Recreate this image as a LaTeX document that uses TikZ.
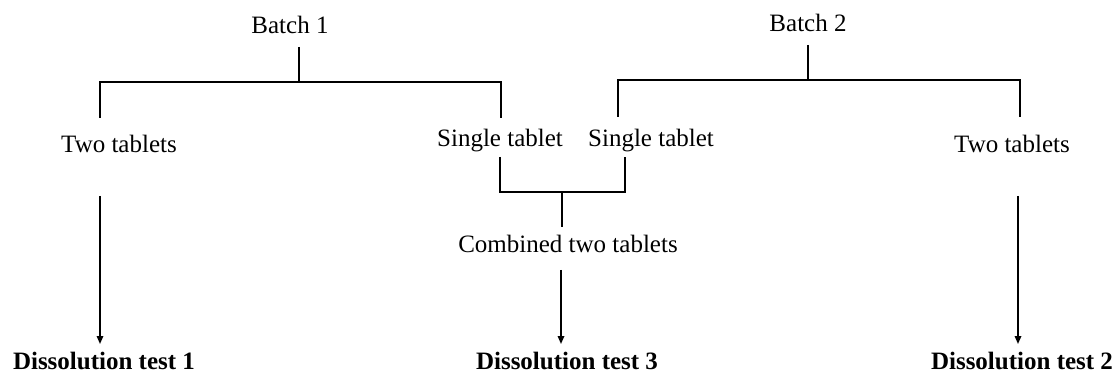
\documentclass[tikz,border=0pt]{standalone}
\usepackage{fontspec}
\setmainfont{Liberation Serif}
\usetikzlibrary{arrows.meta}
\begin{document}
\begin{tikzpicture}[x=1pt,y=-1pt,
  lbl/.style={anchor=base,inner sep=0pt,font=\fontsize{25}{29}\selectfont},
  res/.style={anchor=base,inner sep=0pt,font=\fontsize{25}{29}\selectfont\bfseries},
  link/.style={line width=1.6pt},
  flow/.style={line width=1.6pt,-{Triangle[length=8pt,width=6.5pt]}}]
\useasboundingbox (0,0) rectangle (1120,374);

% labels
\node[lbl] (b1) at (290,34) {Batch 1};
\node[lbl] (b2) at (808,32) {Batch 2};
\node[lbl] (tt1) at (119,153) {Two tablets};
\node[lbl] (st1) at (500,147) {Single tablet};
\node[lbl] (st2) at (651,147) {Single tablet};
\node[lbl] (tt2) at (1012,153) {Two tablets};
\node[lbl] (comb) at (568,253) {Combined two tablets};
\node[res] (d1) at (104,369) {Dissolution test 1};
\node[res] (d3) at (567,369) {Dissolution test 3};
\node[res] (d2) at (1022,369) {Dissolution test 2};

% junction points of the trees
\coordinate (b1s) at (299,47);
\coordinate (b1j) at (299,82);
\coordinate (b1l) at (100,82);
\coordinate (b1r) at (501,82);
\coordinate (b1le) at (100,118);
\coordinate (b1re) at (501,118);
\coordinate (b2s) at (808,45);
\coordinate (b2j) at (808,80);
\coordinate (b2l) at (618,80);
\coordinate (b2r) at (1020,80);
\coordinate (b2le) at (618,117);
\coordinate (b2re) at (1020,117);
\coordinate (s1t) at (500,157);
\coordinate (s1b) at (500,192);
\coordinate (s2t) at (625,157);
\coordinate (s2b) at (625,192);
\coordinate (cj) at (562,192);
\coordinate (ce) at (562,227);
\coordinate (a1s) at (100,196);
\coordinate (a1e) at (100,344);
\coordinate (a3s) at (561,270);
\coordinate (a3e) at (561,344);
\coordinate (a2s) at (1018,196);
\coordinate (a2e) at (1018,344);

% batch 1 split
\draw[link] (b1s) -- (b1j);
\draw[link] (b1le) -- (b1l) -- (b1r) -- (b1re);
% batch 2 split
\draw[link] (b2s) -- (b2j);
\draw[link] (b2le) -- (b2l) -- (b2r) -- (b2re);
% joining the single tablets
\draw[link] (s1t) -- (s1b) -- (s2b) -- (s2t);
\draw[link] (cj) -- (ce);
% to the dissolution tests
\draw[flow] (a1s) -- (a1e);
\draw[flow] (a3s) -- (a3e);
\draw[flow] (a2s) -- (a2e);
\end{tikzpicture}
\end{document}
